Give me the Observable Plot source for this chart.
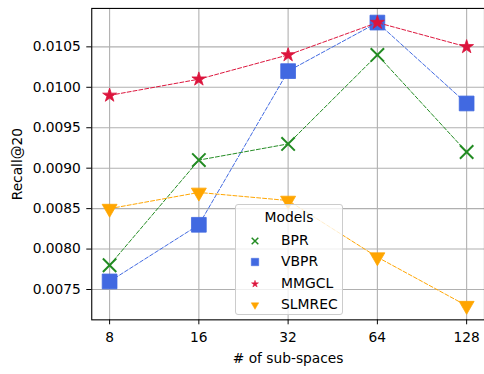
<!DOCTYPE html>
<html><head><meta charset="utf-8">
<script src="https://cdn.jsdelivr.net/npm/d3@7"></script>
<script src="https://cdn.jsdelivr.net/npm/@observablehq/plot@0.6"></script>
<style>
body{margin:0;background:#fff;font-family:"DejaVu Sans",sans-serif;}
#wrap{position:relative;width:484px;height:374px;overflow:hidden;}
#legend{position:absolute;left:235px;top:204px;width:106px;height:109px;border:1px solid #cccccc;border-radius:3px;background:rgba(255,255,255,0.8);font-size:13.9px;color:#000;box-sizing:content-box;}
#legend .t{position:absolute;left:0;width:106px;text-align:center;top:4px;}
#legend .e{position:absolute;left:0;height:20px;width:106px;}
#legend .e svg{position:absolute;left:11px;top:2px;}
#legend .e span{position:absolute;left:45px;top:1px;}
</style></head><body>
<div id="wrap"></div>
<script>
const subspaces = [8, 16, 32, 64, 128];
const models = ["BPR", "VBPR", "MMGCL", "SLMREC"];
const bpr = [0.0078, 0.0091, 0.0093, 0.0104, 0.0092];
const vbpr = [0.0076, 0.0083, 0.0102, 0.0108, 0.0098];
const mmgcl = [0.0099, 0.0101, 0.0104, 0.0108, 0.0105];
const slmrec = [0.0085, 0.0087, 0.0086, 0.0079, 0.0073];
const colors = ["#228B22", "#4169E1", "#DC143C", "#FFA500"];
const yTicks = [0.0075, 0.0080, 0.0085, 0.0090, 0.0095, 0.0100, 0.0105];
const xLabel = "# of sub-spaces";
const yLabel = "Recall@20";

const seriesValues = [bpr, vbpr, mmgcl, slmrec];
const markerStyle = [
  {symbol: "times", r: 6.2, filled: false, rotate: 0},
  {symbol: "square", r: 8.4, filled: true, rotate: 0},
  {symbol: "star", r: 4.4, filled: true, rotate: 0},
  {symbol: "triangle", r: 5.6, filled: true, rotate: 180}
];

const allVals = seriesValues.flat();
const yMin = d3.min(allVals), yMax = d3.max(allVals);
const yPad = (yMax - yMin) * 0.05;
const lx0 = Math.log2(d3.min(subspaces)), lx1 = Math.log2(d3.max(subspaces));
const xPad = (lx1 - lx0) * 0.05;

const marks = [
  Plot.gridY(yTicks, {stroke: "#b0b0b0", strokeOpacity: 1, strokeWidth: 1.1}),
  Plot.gridX(subspaces, {stroke: "#b0b0b0", strokeOpacity: 1, strokeWidth: 1.1}),
  Plot.frame({stroke: "#000", strokeWidth: 1.1}),
  Plot.axisY(yTicks, {tickFormat: d3.format(".4f"), tickSize: 5, tickPadding: 6,
    label: yLabel, labelAnchor: "center", labelArrow: "none", labelOffset: 80}),
  Plot.axisX(subspaces, {tickFormat: d => String(d), tickSize: 5, tickPadding: 7,
    label: xLabel, labelAnchor: "center", labelArrow: "none", labelOffset: 44})
];

models.forEach((m, i) => {
  const data = subspaces.map((s, j) => ({x: s, y: seriesValues[i][j]}));
  const st = markerStyle[i];
  marks.push(Plot.line(data, {x: "x", y: "y", stroke: colors[i], strokeWidth: 1, strokeDasharray: "4,2"}));
  marks.push(Plot.dot(data, {
    x: "x", y: "y", symbol: st.symbol, r: st.r, rotate: st.rotate,
    fill: st.filled ? colors[i] : "none",
    stroke: colors[i], strokeWidth: st.filled ? 0.8 : 2
  }));
});

const chart = Plot.plot({
  width: 488, height: 374,
  marginLeft: 92, marginRight: 0, marginTop: 8, marginBottom: 52,
  style: {fontFamily: "DejaVu Sans, sans-serif", fontSize: "13.9px", color: "#000", background: "#fff", overflow: "visible"},
  x: {type: "log", base: 2, domain: [2 ** (lx0 - xPad), 2 ** (lx1 + xPad)]},
  y: {domain: [yMin - yPad, yMax + yPad]},
  marks
});
const wrap = document.getElementById("wrap");
wrap.appendChild(chart);

// legend
const leg = document.createElement("div");
leg.id = "legend";
const t = document.createElement("div");
t.className = "t"; t.textContent = "Models";
leg.appendChild(t);
const symMap = {times: d3.symbolTimes, square: d3.symbolSquare, star: d3.symbolStar, triangle: d3.symbolTriangle};
models.forEach((m, i) => {
  const st = markerStyle[i];
  const e = document.createElement("div");
  e.className = "e";
  e.style.top = (26 + i * 21.3) + "px";
  const r = st.r * 0.5;
  const path = d3.symbol(symMap[st.symbol], Math.PI * r * r)();
  e.innerHTML = `<svg width="16" height="16" viewBox="-8 -8 16 16"><path d="${path}" transform="rotate(${st.rotate})" fill="${st.filled ? colors[i] : "none"}" stroke="${colors[i]}" stroke-width="${st.filled ? 0.5 : 1.5}"/></svg><span>${m}</span>`;
  leg.appendChild(e);
});
wrap.appendChild(leg);
</script>
</body></html>
